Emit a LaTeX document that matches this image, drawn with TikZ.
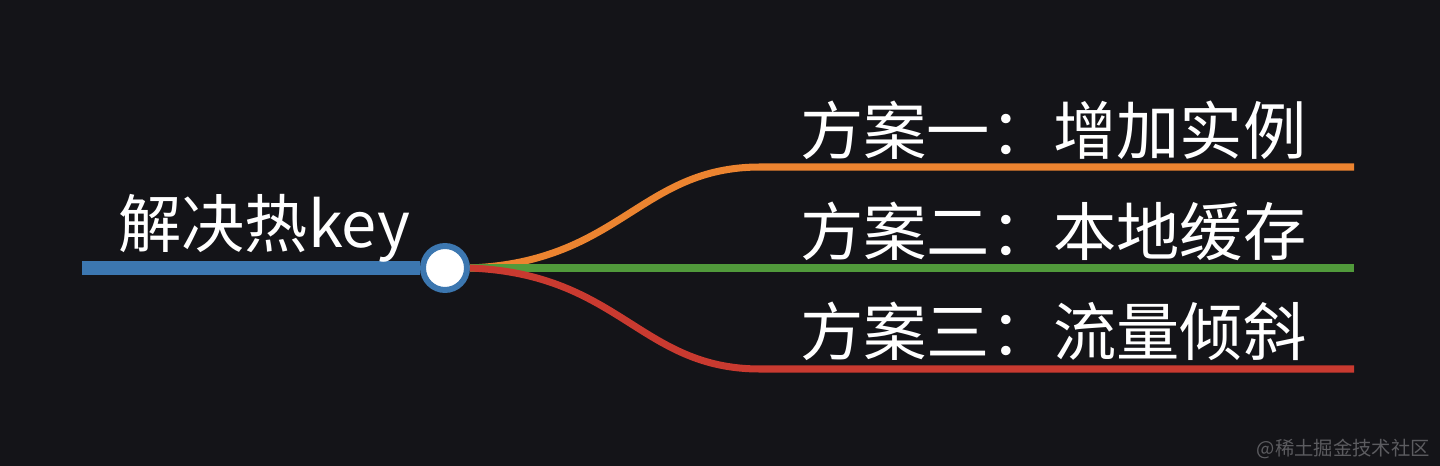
\documentclass[tikz,border=0pt]{standalone}
\usepackage{fontspec}
\newfontfamily\cjk{Noto Sans CJK SC}
\usetikzlibrary{positioning}
\usetikzlibrary{calc}
\definecolor{bgdark}{HTML}{141418}
\definecolor{rootblue}{HTML}{3C77B0}
\definecolor{branchorange}{HTML}{EC8430}
\definecolor{branchgreen}{HTML}{519A3B}
\definecolor{branchred}{HTML}{C93A30}
\definecolor{markgray}{HTML}{5C5C60}
\tikzstyle{hub}=[circle,fill=white,draw=rootblue,line width=3.4pt,minimum size=0.88cm,inner sep=0pt]
\tikzstyle{label}=[font=\cjk\fontsize{36}{40}\selectfont,text=white,inner sep=0pt,anchor=west]
\tikzstyle{rootbar}=[draw=rootblue,line width=8pt]
\tikzstyle{branch}=[line width=4pt]
\tikzstyle{watermark}=[font=\cjk\fontsize{11}{13}\selectfont,text=markgray,inner sep=0pt,anchor=east]

\begin{document}
\begin{tikzpicture}[x=0.02cm,y=-0.02cm]
    % background
    \fill[bgdark] (0,0) rectangle (1440,466);
    \useasboundingbox (0,0) rectangle (1440,466);

    % root topic with its bar and the hub circle
    \node[hub] (hub) at (445,268) {};
    \coordinate (rootstart) at (82,268);
    \path[rootbar] (rootstart) -- (hub.west);
    \node[label] (roottext) at (118,228) {解决热key};

    % branch ends
    \foreach \x/\y/\name in {760/167/bendA, 1354/167/endA, 760/369/bendC, 1354/369/endC, 1354/268/endB}
        \coordinate (\name) at (\x,\y);

    % branches
    \path[branch,draw=branchorange] (hub.east) .. controls (620,262) and (640,167) .. (bendA) -- (endA);
    \path[branch,draw=branchgreen] (hub.east) -- (endB);
    \path[branch,draw=branchred] (hub.east) .. controls (620,274) and (640,369) .. (bendC) -- (endC);

    % branch labels
    \foreach \x/\y/\name/\text in {800/130/textA/方案一：增加实例, 800/231/textB/方案二：本地缓存, 800/331/textC/方案三：流量倾斜}
        \node[label] (\name) at (\x,\y) {\text};

    \node[watermark] (mark) at (1430,449) {@稀土掘金技术社区};
\end{tikzpicture}
\end{document}
